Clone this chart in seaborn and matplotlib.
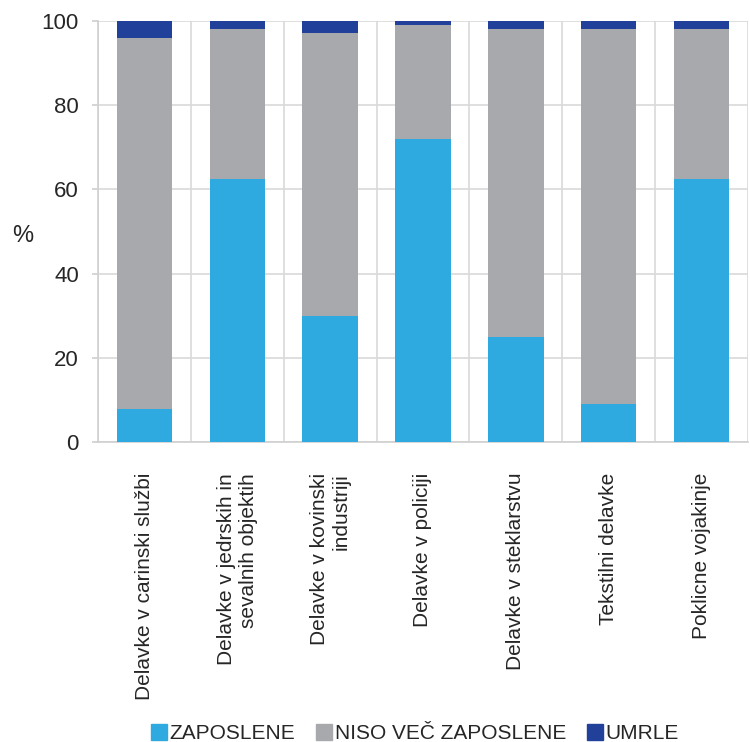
import matplotlib
matplotlib.use("Agg")
import matplotlib.pyplot as plt
import seaborn as sns
import numpy as np
import pandas as pd
from matplotlib.lines import Line2D

categories = [
    "Delavke v carinski službi",
    "Delavke v jedrskih in\nsevalnih objektih",
    "Delavke v kovinski\nindustriji",
    "Delavke v policiji",
    "Delavke v steklarstvu",
    "Tekstilni delavke",
    "Poklicne vojakinje",
]
zaposlene = [8, 62.5, 30, 72, 25, 9, 62.5]
niso_vec = [88, 35.5, 67, 27, 73, 89, 35.5]
umrle = [4, 2, 3, 1, 2, 2, 2]
series_names = ["ZAPOSLENE", "NISO VEČ ZAPOSLENE", "UMRLE"]
colors = ["#2EAAE1", "#A8A9AD", "#21409A"]

sns.set_theme(style="white")
plt.rcParams["font.family"] = ["Liberation Sans", "DejaVu Sans"]

df = pd.DataFrame({"cat": categories, "z": zaposlene, "n": niso_vec, "u": umrle})
df["c1"] = df["z"]
df["c2"] = df["z"] + df["n"]
df["c3"] = df["c2"] + df["u"]

fig = plt.figure(figsize=(7.5, 7.42), dpi=100)
ax = fig.add_axes([0.131, 0.404, 0.866, 0.568])

for col, c in zip(["c3", "c2", "c1"], colors[::-1]):
    sns.barplot(data=df, x="cat", y=col, color=c, width=0.6, saturation=1,
                ax=ax, zorder=3, linewidth=0)

ax.set_ylim(0, 100)
ax.set_xlim(-0.5, 6.5)
ax.set_yticks([0, 20, 40, 60, 80, 100])
ax.set_xticks(np.arange(-0.5, 7, 1), minor=True)
ax.grid(axis="y", which="major", color="#D9D9D9", linewidth=1.2, zorder=0)
ax.grid(axis="x", which="minor", color="#D9D9D9", linewidth=1.2, zorder=0)
ax.grid(axis="x", which="major", visible=False)
for s in ["top", "right"]:
    ax.spines[s].set_visible(False)
ax.spines["left"].set_color("#D0D0D0")
ax.spines["bottom"].set_color("#D0D0D0")
ax.spines["left"].set_linewidth(1.2)
ax.spines["bottom"].set_linewidth(1.2)
ax.tick_params(axis="y", left=True, length=4, color="#D0D0D0", labelsize=16, pad=10)
ax.tick_params(axis="x", which="both", bottom=False, length=0)

ax.set_xticks(range(len(categories)))
ax.set_xticklabels(categories, rotation=90, ha="center", va="top",
                   multialignment="right", fontsize=15)
ax.tick_params(axis="x", pad=22)
ax.set_xlabel("")
ax.set_ylabel("%", rotation=0, fontsize=17, va="center", ha="center")
ax.yaxis.set_label_coords(-0.117, 0.49)

handles = [Line2D([0], [0], marker="s", color="none", markerfacecolor=c,
                  markeredgecolor=c, markersize=11) for c in colors]
leg = fig.legend(handles, series_names, loc="lower center", bbox_to_anchor=(0.553, -0.027),
                 ncol=3, frameon=False, handlelength=0.8, handletextpad=0.1,
                 columnspacing=1.0, prop={"size": 15})

fig.savefig("out.png", dpi=100)
